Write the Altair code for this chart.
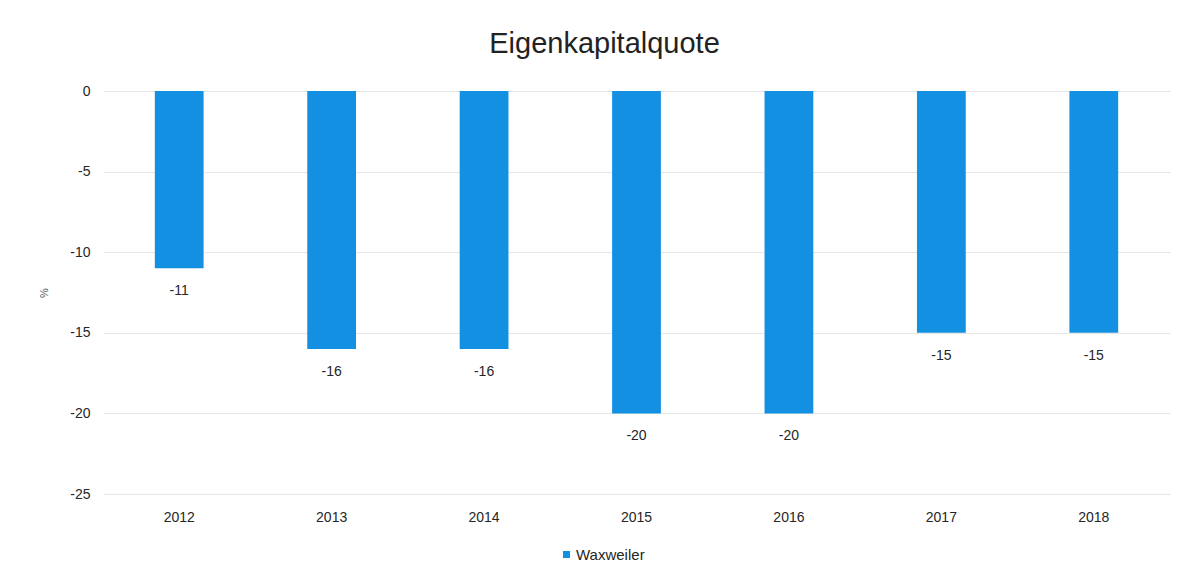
import altair as alt
import pandas as pd

years = ["2012", "2013", "2014", "2015", "2016", "2017", "2018"]
values = [-11, -16, -16, -20, -20, -15, -15]
series = ["Waxweiler"] * len(years)

df = pd.DataFrame({"Jahr": years, "Wert": values, "Serie": series})

FONT = "Liberation Sans"
BLUE = "#1490e2"
TXT = "#262626"

base = alt.Chart(df).transform_calculate(lbl="'' + datum.Wert")

bars = base.mark_bar(color=BLUE).encode(
    x=alt.X("Jahr:N", sort=years, title=None,
            scale=alt.Scale(paddingInner=0.68, paddingOuter=0.34),
            axis=alt.Axis(labelAngle=0, labelPadding=16, ticks=False, domain=False,
                          labelFont=FONT, labelFontSize=14, labelColor=TXT)),
    y=alt.Y("Wert:Q", title="%",
            scale=alt.Scale(domain=[-25, 0], nice=False),
            axis=alt.Axis(values=[0, -5, -10, -15, -20, -25], ticks=False, domain=False,
                          labelExpr="'' + datum.value",
                          labelPadding=13, labelFont=FONT, labelFontSize=14, labelColor=TXT,
                          gridColor="#e6e6e6", titleFont=FONT, titleFontSize=11,
                          titleFontWeight="normal", titleColor="#555555", titlePadding=20)),
    fill=alt.Fill("Serie:N", scale=alt.Scale(range=[BLUE]),
                  legend=alt.Legend(title=None, orient="none", legendX=456, legendY=456,
                                    symbolType="square", symbolSize=50,
                                    labelFont=FONT, labelFontSize=15, labelColor=TXT,
                                    labelOffset=2)),
)

labels = base.mark_text(font=FONT, fontSize=14, color=TXT, baseline="middle", dy=23).encode(
    x=alt.X("Jahr:N", sort=years),
    y="Wert:Q",
    text="lbl:N",
)

chart = (bars + labels).properties(
    width=1067,
    height=403,
    title=alt.Title("Eigenkapitalquote", font=FONT, fontSize=29, fontWeight="normal",
                    color="#222222", anchor="middle", offset=25, dx=-32),
    autosize=alt.AutoSizeParams(type="none"),
    padding={"left": 95, "top": 83, "right": 18, "bottom": 70},
).configure(background="white").configure_view(stroke=None)

chart.save("out.html", embed_options={"renderer": "svg", "actions": False})
